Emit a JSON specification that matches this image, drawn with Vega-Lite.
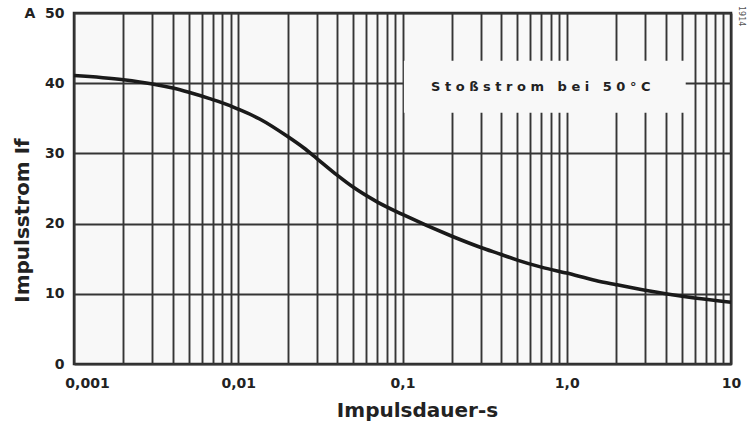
{
  "$schema": "https://vega.github.io/schema/vega-lite/v6.json",
  "width": 657,
  "height": 351,
  "autosize": {"type": "none"},
  "padding": {"left": 74, "top": 13, "right": 16, "bottom": 61},
  "background": "white",
  "config": {
    "view": {"stroke": "#2a2a2a", "strokeWidth": 2.5, "fill": "#f8f8f8"},
    "font": "DejaVu Sans"
  },
  "title": {"text": "1914", "orient": "right", "anchor": "start", "fontSize": 8, "fontWeight": "normal", "color": "#555", "offset": -4},
  "datasets": {
    "curve": [
      {"t": 0.001, "i": 41.1},
      {"t": 0.002, "i": 40.5},
      {"t": 0.003, "i": 39.9},
      {"t": 0.004, "i": 39.3},
      {"t": 0.005, "i": 38.7},
      {"t": 0.0067, "i": 37.8},
      {"t": 0.0089, "i": 36.8},
      {"t": 0.01, "i": 36.3},
      {"t": 0.0135, "i": 34.9},
      {"t": 0.02, "i": 32.4},
      {"t": 0.025, "i": 30.8},
      {"t": 0.03, "i": 29.3},
      {"t": 0.04, "i": 26.9},
      {"t": 0.05, "i": 25.2},
      {"t": 0.07, "i": 23.1},
      {"t": 0.1, "i": 21.3},
      {"t": 0.2, "i": 18.2},
      {"t": 0.3, "i": 16.6},
      {"t": 0.4, "i": 15.6},
      {"t": 0.5, "i": 14.8},
      {"t": 0.7, "i": 13.8},
      {"t": 1.0, "i": 12.95},
      {"t": 1.5, "i": 11.9},
      {"t": 2, "i": 11.3},
      {"t": 3, "i": 10.5},
      {"t": 4, "i": 10.0},
      {"t": 6, "i": 9.4},
      {"t": 10, "i": 8.8}
    ],
    "box": [{"t": 0.102, "t2": 5.3, "i": 35.8, "i2": 43.2}],
    "note": [{"t": 0.695, "i": 39.5, "label": "S t o ß s t r o m \u00a0 b e i \u00a0 5 0 ° C"}]
  },
  "layer": [
    {
      "data": {"name": "box"},
      "mark": {"type": "rect", "fill": "#f8f8f8", "stroke": null},
      "encoding": {
        "x": {
          "field": "t", "type": "quantitative",
          "scale": {"type": "log", "domain": [0.001, 10], "nice": false},
          "axis": {
            "title": "Impulsdauer-s",
            "values": [0.001, 0.002, 0.003, 0.004, 0.005, 0.006, 0.007, 0.008, 0.009, 0.01, 0.02, 0.03, 0.04, 0.05, 0.06, 0.07, 0.08, 0.09, 0.1, 0.2, 0.3, 0.4, 0.5, 0.6, 0.7, 0.8, 0.9, 1, 2, 3, 4, 5, 6, 7, 8, 9, 10],
            "labelExpr": "datum.value == 0.001 ? '0,001' : datum.value == 0.01 ? '0,01' : datum.value == 0.1 ? '0,1' : datum.value == 1 ? '1,0' : datum.value == 10 ? '10' : ''",
            "grid": true, "gridColor": "#353535", "gridWidth": 1.9,
            "ticks": false, "domain": false,
            "labelPadding": 12, "labelFontWeight": "bold", "labelFontSize": 14, "labelColor": "#222",
            "labelOverlap": false, "labelFlush": false, "labelBound": false,
            "labelOffset": {"condition": {"test": "datum.value < 0.002", "value": 13}, "value": 0},
            "titleFontSize": 20, "titleFontWeight": "bold", "titleColor": "#222",
            "titleY": 46, "titleX": 343, "titleBaseline": "middle"
          }
        },
        "x2": {"field": "t2"},
        "y": {
          "field": "i", "type": "quantitative",
          "scale": {"domain": [0, 50], "nice": false},
          "axis": {
            "title": "Impulsstrom If",
            "values": [0, 5, 10, 15, 20, 25, 30, 35, 40, 45, 50],
            "labelExpr": "datum.value % 10 == 0 ? (datum.value == 50 ? 'A\u00a0\u00a050' : datum.label) : ''",
            "grid": true, "gridColor": "#353535", "gridWidth": 1.9,
            "ticks": false, "domain": false,
            "labelPadding": 10, "labelFontWeight": "bold", "labelFontSize": 14, "labelColor": "#222",
            "titleFontSize": 20, "titleFontWeight": "bold", "titleColor": "#222",
            "titleX": -52, "titleY": 207, "titleBaseline": "middle"
          }
        },
        "y2": {"field": "i2"}
      }
    },
    {
      "data": {"name": "curve"},
      "mark": {"type": "line", "color": "#1a1a1a", "strokeWidth": 3.6, "interpolate": "monotone"},
      "encoding": {
        "x": {"field": "t", "type": "quantitative"},
        "y": {"field": "i", "type": "quantitative"}
      }
    },
    {
      "data": {"name": "note"},
      "mark": {"type": "text", "fontSize": 13, "fontWeight": "bold", "color": "#222", "align": "center", "baseline": "middle"},
      "encoding": {
        "x": {"field": "t", "type": "quantitative"},
        "y": {"field": "i", "type": "quantitative"},
        "text": {"field": "label"}
      }
    }
  ]
}
